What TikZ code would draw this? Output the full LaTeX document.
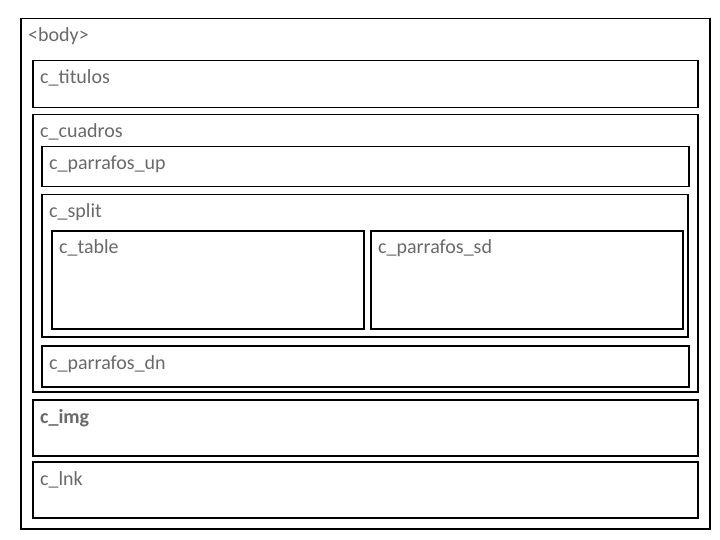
\documentclass[tikz,border=0pt]{standalone}
\usepackage{fontspec}
\setmainfont{Carlito}
\usepackage{tikz}
\definecolor{gristexto}{RGB}{105,105,105}

\begin{document}
\begin{tikzpicture}[x=1pt, y=-1pt,
    caja/.style={draw=black, line width=1.5pt, rectangle, inner sep=0pt, anchor=north west},
    etiqueta/.style={anchor=base west, inner sep=0pt, text=gristexto, font=\fontsize{20}{24}\selectfont}]
    \useasboundingbox (0,0) rectangle (720,540);
    \def \dx {8}  % sangria del texto
    \def \dy {24} % linea base bajo el borde
    \foreach \nombre/\x/\y/\ancho/\alto/\texto in {
        body/20/18/689/510/{<body>},
        titulos/32/60/665/47/{c\_titulos},
        cuadros/32/114/665/277/{c\_cuadros},
        parrafosup/41/146/647/40/{c\_parrafos\_up},
        split/41/194/646/142/{c\_split},
        table/51/230/312/98/{c\_table},
        parrafossd/370/230/312/98/{c\_parrafos\_sd},
        parrafosdn/41/345/647/41/{c\_parrafos\_dn},
        img/32/399/665/56/{\textbf{c\_img}},
        lnk/32/461/665/56/{c\_lnk}}
    {
      \node[caja, minimum width=\ancho pt, minimum height=\alto pt] (\nombre) at (\x,\y) {};
      \node[etiqueta] (t\nombre) at ([shift={(\dx,\dy)}]\nombre.north west) {\texto};
    }
\end{tikzpicture}
\end{document}
